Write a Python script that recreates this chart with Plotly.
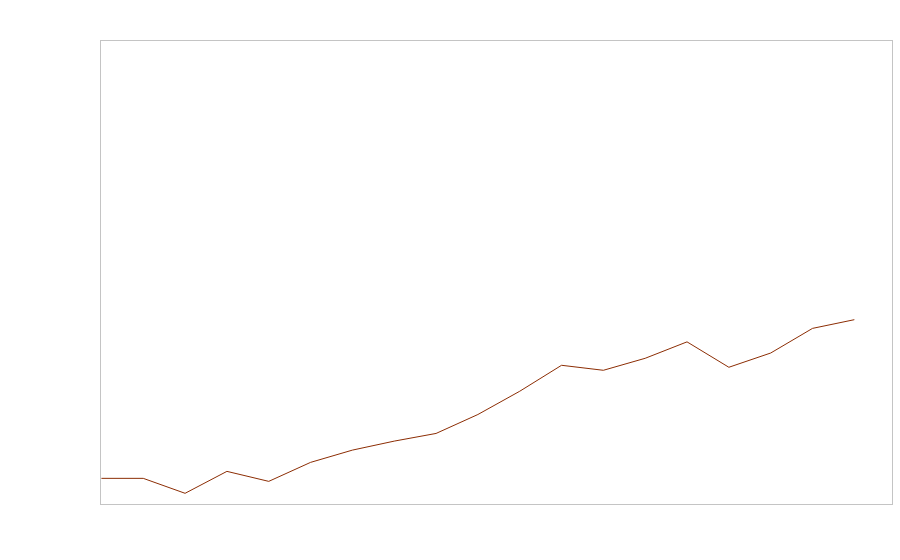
import plotly.graph_objects as go

periods = list(range(19))
values = [5.54, 5.54, 2.31, 7.05, 4.89, 8.99, 11.64, 13.58, 15.24, 19.33,
          24.35, 29.96, 28.88, 31.47, 35.02, 29.53, 32.61, 37.93, 39.81]

fig = go.Figure(go.Scatter(x=periods, y=values, mode="lines",
                           line=dict(color="#8c2d04", width=1)))

axis_style = dict(showgrid=False, zeroline=False, showticklabels=False, ticks="",
                  showline=True, linecolor="#c4c4c4", linewidth=1, mirror=True)

fig.update_layout(
    width=900, height=560,
    margin=dict(l=101, r=8, t=41, b=56),
    paper_bgcolor="white", plot_bgcolor="white",
    showlegend=False,
    xaxis=dict(range=[-0.01, 18.9], **axis_style),
    yaxis=dict(range=[0, 100], **axis_style),
)

fig.write_html("out.html",
               config={"displayModeBar": False},
               post_script="document.body.style.margin='0';document.body.style.overflow='hidden';")
